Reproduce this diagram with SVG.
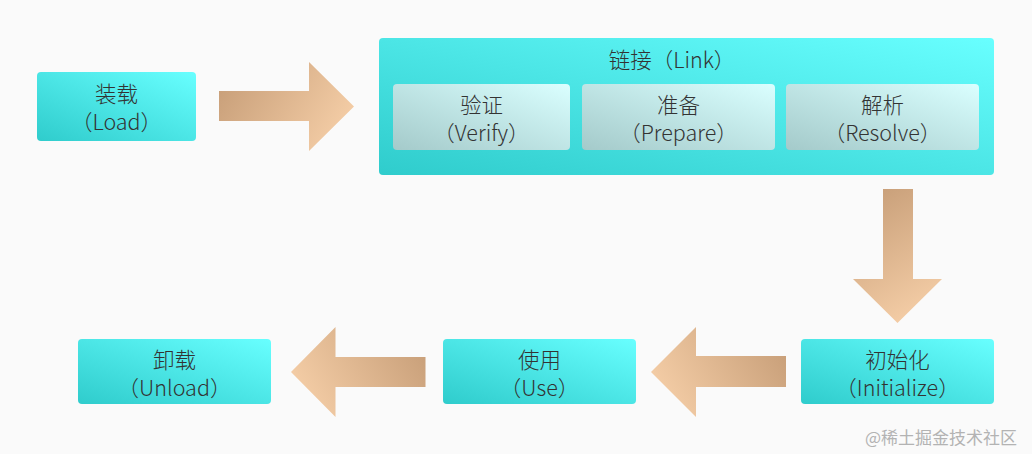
<svg xmlns="http://www.w3.org/2000/svg" width="1032" height="454" viewBox="0 0 1032 454">
<defs>
<linearGradient id="gBox" x1="0" y1="1" x2="1" y2="0">
<stop offset="0" stop-color="#2fcccc"/>
<stop offset="1" stop-color="#68ffff"/>
</linearGradient>
<linearGradient id="gSub" x1="0" y1="1" x2="1" y2="0">
<stop offset="0" stop-color="#a4caca"/>
<stop offset="1" stop-color="#daffff"/>
</linearGradient>
<linearGradient id="gRight" x1="0" y1="0.3" x2="1" y2="0.7">
<stop offset="0" stop-color="#c9a07a"/>
<stop offset="1" stop-color="#f6cfa8"/>
</linearGradient>
<linearGradient id="gDown" x1="0.3" y1="0" x2="0.7" y2="1">
<stop offset="0" stop-color="#c9a07a"/>
<stop offset="1" stop-color="#f6cfa8"/>
</linearGradient>
<linearGradient id="gLeft" x1="1" y1="0.3" x2="0" y2="0.7">
<stop offset="0" stop-color="#c9a07a"/>
<stop offset="1" stop-color="#f6cfa8"/>
</linearGradient>
</defs>
<style>
.box{fill:url(#gBox);}
.sub{fill:url(#gSub);}
text{font-family:"Noto Sans CJK SC","Noto Sans",sans-serif;font-size:21.5px;font-weight:300;fill:#333;text-anchor:middle;}
.wm{font-size:17px;font-weight:400;fill:#b3b3b3;text-anchor:start;}
</style>
<rect width="1032" height="454" fill="#fafafa"/>
<g id="connectors">
<polygon fill="url(#gRight)" points="219,91 309,91 309,62 354,106.5 309,151 309,121 219,121"/>
<polygon fill="url(#gDown)" points="883,189 913,189 913,279 942,279 897.5,323 853,279 883,279"/>
<polygon fill="url(#gLeft)" points="786,356 696,356 696,327 651,372 696,417 696,387 786,387"/>
<polygon fill="url(#gLeft)" points="425.5,357 335.5,357 335.5,327 291,372 335.5,417 335.5,387 425.5,387"/>
</g>
<g id="load">
<rect class="box" x="37" y="72" width="159" height="69" rx="4"/>
<text x="116.5" y="102">装载</text>
<text x="116.5" y="130">（Load）</text>
</g>
<g id="link">
<rect class="box" x="379" y="38" width="615" height="137" rx="4"/>
<text x="672" y="68">链接（Link）</text>
</g>
<g id="verify">
<rect class="sub" x="393" y="84" width="177" height="66" rx="4"/>
<text x="481.5" y="113">验证</text>
<text x="481.5" y="141">（Verify）</text>
</g>
<g id="prepare">
<rect class="sub" x="582" y="84" width="193" height="66" rx="4"/>
<text x="678.5" y="113">准备</text>
<text x="678.5" y="141">（Prepare）</text>
</g>
<g id="resolve">
<rect class="sub" x="786" y="84" width="193" height="66" rx="4"/>
<text x="882.5" y="113">解析</text>
<text x="882.5" y="141">（Resolve）</text>
</g>
<g id="initialize">
<rect class="box" x="801" y="339" width="193" height="65" rx="4"/>
<text x="897.5" y="368">初始化</text>
<text x="897.5" y="396">（Initialize）</text>
</g>
<g id="use">
<rect class="box" x="443" y="339" width="193" height="65" rx="4"/>
<text x="539.5" y="368">使用</text>
<text x="539.5" y="396">（Use）</text>
</g>
<g id="unload">
<rect class="box" x="78" y="339" width="193" height="65" rx="4"/>
<text x="174.5" y="368">卸载</text>
<text x="174.5" y="396">（Unload）</text>
</g>
<text class="wm" x="865" y="444">@稀土掘金技术社区</text>
</svg>
